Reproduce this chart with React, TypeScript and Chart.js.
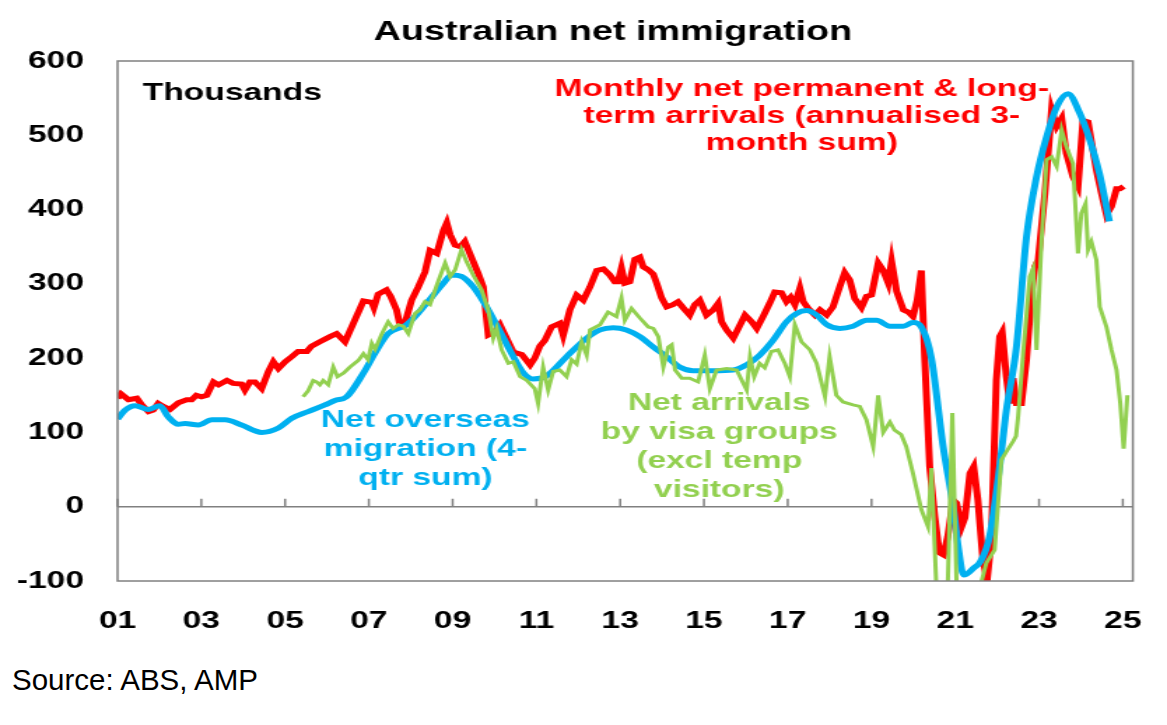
import { useEffect, useRef } from "react"
import { Chart, registerables } from "chart.js"

// Register Chart.js components
Chart.register(...registerables)

// the source picture is squeezed sideways: draw narrow, stretch with CSS
const CANVAS_W = 834
const CANVAS_H = 645
const STRETCH = 1167 / CANVAS_W
const FONT = '"Liberation Sans", Arial, Helvetica, sans-serif'

const tickYears = [2001, 2003, 2005, 2007, 2009, 2011, 2013, 2015, 2017, 2019, 2021, 2023, 2025]
const tickLabels = ["01", "03", "05", "07", "09", "11", "13", "15", "17", "19", "21", "23", "25"]

// Monthly net permanent & long-term arrivals (annualised 3-month sum), '000
const ltDates = [
  2001.0, 2001.08, 2001.26, 2001.46, 2001.58, 2001.74, 2001.85, 2001.97, 2002.09, 2002.25,
  2002.45, 2002.65, 2002.77, 2002.88, 2003.0, 2003.13, 2003.29, 2003.41, 2003.61, 2003.76,
  2003.96, 2004.04, 2004.16, 2004.28, 2004.44, 2004.6, 2004.72, 2004.84, 2005.0, 2005.16,
  2005.31, 2005.52, 2005.63, 2005.83, 2006.07, 2006.23, 2006.43, 2006.63, 2006.87, 2007.07,
  2007.12, 2007.22, 2007.42, 2007.52, 2007.66, 2007.74, 2007.86, 2008.02, 2008.18, 2008.34,
  2008.46, 2008.62, 2008.78, 2008.86, 2008.94, 2009.06, 2009.18, 2009.29, 2009.41, 2009.61,
  2009.73, 2009.85, 2010.0, 2010.13, 2010.25, 2010.45, 2010.65, 2010.85, 2010.96, 2011.08,
  2011.2, 2011.36, 2011.56, 2011.64, 2011.8, 2011.96, 2012.12, 2012.28, 2012.44, 2012.6,
  2012.75, 2012.87, 2012.95, 2013.03, 2013.11, 2013.23, 2013.35, 2013.47, 2013.55, 2013.67,
  2013.79, 2013.87, 2013.99, 2014.11, 2014.26, 2014.38, 2014.5, 2014.66, 2014.78, 2014.9,
  2014.98, 2015.06, 2015.22, 2015.34, 2015.42, 2015.54, 2015.7, 2015.82, 2015.98, 2016.14,
  2016.26, 2016.41, 2016.57, 2016.69, 2016.85, 2016.97, 2017.07, 2017.17, 2017.29, 2017.37,
  2017.49, 2017.65, 2017.77, 2017.93, 2018.08, 2018.24, 2018.36, 2018.48, 2018.6, 2018.76,
  2018.88, 2019.0, 2019.16, 2019.28, 2019.4, 2019.48, 2019.6, 2019.76, 2019.88, 2019.99,
  2020.09, 2020.19, 2020.27, 2020.39, 2020.51, 2020.62, 2020.72, 2020.82, 2020.95, 2021.03,
  2021.15, 2021.23, 2021.35, 2021.44, 2021.54, 2021.66, 2021.76, 2021.86, 2021.98, 2022.06,
  2022.12, 2022.22, 2022.3, 2022.38, 2022.46, 2022.58, 2022.7, 2022.82, 2022.9, 2022.98,
  2023.14, 2023.3, 2023.42, 2023.54, 2023.65, 2023.81, 2023.93, 2024.05, 2024.17, 2024.37,
  2024.49, 2024.61, 2024.73, 2024.85, 2024.93, 2025.02,
]
const ltValues = [
  146, 152, 144, 146, 137, 128, 130, 139, 135, 131,
  140, 144, 144, 150, 148, 150, 168, 164, 170, 166,
  165, 157, 168, 168, 159, 182, 195, 186, 195, 202,
  209, 209, 216, 222, 229, 233, 222, 247, 277, 275,
  268, 286, 292, 283, 265, 245, 247, 278, 296, 316,
  345, 341, 372, 382, 366, 352, 350, 357, 341, 314,
  296, 231, 235, 245, 231, 208, 205, 191, 200, 216,
  224, 242, 247, 231, 265, 285, 278, 296, 318, 320,
  312, 303, 303, 321, 301, 303, 333, 336, 323, 319,
  313, 301, 281, 269, 272, 276, 268, 258, 272, 278,
  268, 258, 265, 274, 249, 238, 227, 240, 258, 249,
  240, 256, 274, 289, 288, 276, 282, 272, 294, 276,
  267, 258, 265, 258, 269, 296, 315, 305, 280, 268,
  283, 285, 328, 318, 301, 330, 290, 265, 262, 256,
  278, 318, 200, 54, -13, -62, -65, -40, 9, 5,
  -27, -15, 45, 54, 9, -72, -99, -45, 170, 229,
  235, 175, 139, 173, 139, 139, 198, 287, 323, 332,
  422, 534, 512, 523, 476, 444, 431, 520, 518, 453,
  422, 393, 404, 428, 428, 431,
]

// Net overseas migration (4-qtr sum), '000
const nomDates = [
  2001.0, 2001.18, 2001.42, 2001.74, 2002.01, 2002.21, 2002.45, 2002.61, 2002.93, 2003.25,
  2003.57, 2003.96, 2004.44, 2004.84, 2005.16, 2005.55, 2005.95, 2006.19, 2006.47, 2006.87,
  2007.19, 2007.46, 2007.9, 2008.38, 2008.78, 2008.98, 2009.21, 2009.49, 2009.81, 2010.13,
  2010.45, 2010.69, 2010.92, 2011.24, 2011.72, 2012.2, 2012.52, 2012.83, 2013.15, 2013.47,
  2013.79, 2014.11, 2014.42, 2014.74, 2015.22, 2015.7, 2016.02, 2016.33, 2016.65, 2016.97,
  2017.21, 2017.45, 2017.69, 2017.93, 2018.24, 2018.56, 2018.88, 2019.12, 2019.44, 2019.76,
  2019.99, 2020.19, 2020.43, 2020.71, 2020.95, 2021.07, 2021.2, 2021.45, 2021.6, 2021.82,
  2022.06, 2022.22, 2022.46, 2022.7, 2022.94, 2023.18, 2023.42, 2023.69, 2023.97, 2024.21,
  2024.44, 2024.68,
]
const nomValues = [
  118, 130, 136, 131, 136, 121, 111, 112, 110, 117,
  117, 110, 100, 106, 119, 128, 137, 143, 148, 180,
  211, 233, 245, 274, 301, 312, 310, 296, 269, 236,
  202, 180, 172, 176, 202, 227, 238, 241, 238, 229,
  215, 202, 188, 183, 183, 184, 191, 204, 224, 249,
  260, 264, 258, 245, 240, 243, 251, 251, 243, 243,
  248, 242, 200, 81, 0, -54, -92, -82, -74, -40,
  54, 130, 215, 363, 444, 498, 538, 556, 530, 494,
  449, 384,
]

// Net arrivals by visa groups (excl temp visitors), '000
const visaDates = [
  2005.43, 2005.55, 2005.67, 2005.75, 2005.83, 2005.91, 2006.03, 2006.15, 2006.25, 2006.4,
  2006.55, 2006.75, 2006.87, 2006.98, 2007.07, 2007.15, 2007.31, 2007.46, 2007.58, 2007.7,
  2007.82, 2007.94, 2008.1, 2008.22, 2008.34, 2008.46, 2008.62, 2008.82, 2008.94, 2009.06,
  2009.21, 2009.33, 2009.49, 2009.69, 2009.85, 2009.97, 2010.05, 2010.17, 2010.33, 2010.45,
  2010.61, 2010.77, 2010.96, 2011.04, 2011.16, 2011.28, 2011.4, 2011.56, 2011.72, 2011.84,
  2011.96, 2012.08, 2012.2, 2012.28, 2012.52, 2012.71, 2012.91, 2013.03, 2013.11, 2013.27,
  2013.47, 2013.67, 2013.79, 2013.91, 2014.03, 2014.15, 2014.23, 2014.31, 2014.47, 2014.66,
  2014.86, 2015.02, 2015.14, 2015.3, 2015.54, 2015.78, 2016.02, 2016.1, 2016.2, 2016.33,
  2016.45, 2016.61, 2016.77, 2016.93, 2017.05, 2017.17, 2017.33, 2017.53, 2017.69, 2017.89,
  2018.0, 2018.16, 2018.32, 2018.56, 2018.72, 2018.88, 2019.04, 2019.16, 2019.28, 2019.44,
  2019.55, 2019.71, 2019.83, 2019.99, 2020.19, 2020.35, 2020.43, 2020.58, 2020.8, 2020.93,
  2021.05, 2021.5, 2021.63, 2021.74, 2021.94, 2022.1, 2022.22, 2022.38, 2022.45, 2022.5,
  2022.62, 2022.78, 2022.86, 2022.94, 2023.06, 2023.18, 2023.3, 2023.42, 2023.54, 2023.65,
  2023.81, 2023.93, 2024.01, 2024.11, 2024.17, 2024.25, 2024.37, 2024.45, 2024.61, 2024.73,
  2024.85, 2024.94, 2025.02, 2025.11,
]
const visaValues = [
  148, 156, 170, 168, 164, 170, 164, 188, 175, 180,
  188, 197, 206, 198, 220, 212, 233, 249, 240, 245,
  243, 233, 260, 265, 276, 272, 298, 328, 310, 319,
  346, 330, 312, 292, 265, 227, 240, 211, 193, 195,
  175, 170, 159, 139, 188, 157, 182, 184, 175, 198,
  192, 222, 204, 238, 245, 262, 256, 281, 251, 267,
  254, 242, 240, 229, 188, 215, 218, 184, 173, 173,
  168, 204, 159, 184, 186, 184, 157, 202, 175, 193,
  187, 209, 211, 193, 175, 245, 222, 211, 193, 148,
  202, 150, 141, 137, 135, 117, 81, 150, 100, 114,
  103, 97, 81, 45, -4, -27, 52, -150, -150, 126,
  -150, -150, -100, -76, -58, 63, 74, 88, 95, 121,
  206, 310, 321, 211, 359, 467, 471, 458, 507, 485,
  462, 341, 395, 408, 346, 357, 332, 269, 242, 211,
  184, 139, 78, 150,
]

const chartTitle = "Australian net immigration"
const unitLabel = "Thousands"
const ltLabel = ["Monthly net permanent & long-", "term arrivals (annualised 3-", "month sum)"]
const nomLabel = ["Net overseas", "migration (4-", "qtr sum)"]
const visaLabel = ["Net arrivals", "by visa groups", "(excl temp", "visitors)"]

const RED = "#FF0000"
const BLUE = "#00B0F0"
const GREEN = "#92D050"
const FRAME = "#808080"

const toPoints = (xs: number[], ys: number[]) => xs.map((x, i) => ({ x, y: ys[i] }))

// frame around the plot, and the small year ticks sitting on the zero line
const framePlugin = {
  id: "frame",
  beforeDatasetsDraw(chart: Chart) {
    const { ctx, scales } = chart
    const y0 = scales.y.getPixelForValue(0)
    ctx.save()
    ctx.strokeStyle = FRAME
    ctx.lineWidth = 1.5
    ctx.beginPath()
    tickYears.forEach((yr) => {
      const x = scales.x.getPixelForValue(yr)
      ctx.moveTo(x, y0)
      ctx.lineTo(x, y0 - 8)
    })
    ctx.stroke()
    ctx.restore()
  },
  afterDraw(chart: Chart) {
    const { ctx, chartArea } = chart
    ctx.save()
    ctx.strokeStyle = FRAME
    ctx.lineWidth = 1.5
    ctx.strokeRect(chartArea.left, chartArea.top, chartArea.right - chartArea.left, chartArea.bottom - chartArea.top)
    ctx.restore()
  },
}

const drawLines = (ctx: CanvasRenderingContext2D, lines: string[], x: number, y: number, step: number) => {
  lines.forEach((line, i) => ctx.fillText(line, x, y + i * step))
}

const labelsPlugin = {
  id: "textLabels",
  afterDraw(chart: Chart) {
    const ctx = chart.ctx
    ctx.save()
    ctx.textBaseline = "alphabetic"

    ctx.textAlign = "center"
    ctx.fillStyle = "#000"
    ctx.font = `bold 27px ${FONT}`
    ctx.fillText(chartTitle, 438, 40)

    ctx.textAlign = "left"
    ctx.font = `bold 24px ${FONT}`
    ctx.fillText(unitLabel, 102, 100)

    ctx.textAlign = "center"
    ctx.fillStyle = RED
    drawLines(ctx, ltLabel, 573, 96, 27)
    ctx.fillStyle = BLUE
    drawLines(ctx, nomLabel, 304, 427, 29)
    ctx.fillStyle = GREEN
    drawLines(ctx, visaLabel, 514, 410, 29)
    ctx.restore()
  },
}

function ImmigrationChart() {
  const chartRef = useRef<HTMLCanvasElement>(null)
  const chartInstance = useRef<Chart | null>(null)

  useEffect(() => {
    if (!chartRef.current) return
    if (chartInstance.current) chartInstance.current.destroy()

    const ctx = chartRef.current.getContext("2d")
    if (!ctx) return

    chartInstance.current = new Chart(ctx, {
      type: "line",
      data: {
        datasets: [
          {
            label: "Net arrivals by visa groups",
            data: toPoints(visaDates, visaValues),
            borderColor: GREEN,
            borderWidth: 3,
            pointRadius: 0,
            tension: 0,
            clip: 0,
          },
          {
            label: "Net overseas migration",
            data: toPoints(nomDates, nomValues),
            borderColor: BLUE,
            borderWidth: 5,
            pointRadius: 0,
            cubicInterpolationMode: "monotone",
            clip: 0,
          },
          {
            label: "Monthly net permanent & long-term arrivals",
            data: toPoints(ltDates, ltValues),
            borderColor: RED,
            borderWidth: 5,
            pointRadius: 0,
            tension: 0,
            clip: 0,
          },
        ],
      },
      options: {
        animation: false,
        responsive: true,
        maintainAspectRatio: false,
        layout: { padding: { left: 0, right: 24, top: 61, bottom: 0 } },
        plugins: {
          legend: { display: false },
          tooltip: { enabled: false },
          title: { display: false },
        },
        scales: {
          x: {
            type: "linear",
            min: 2001,
            max: 2025.24,
            afterBuildTicks: (scale) => {
              scale.ticks = tickYears.map((value) => ({ value }))
            },
            afterFit: (scale) => {
              scale.height = CANVAS_H - 581
            },
            grid: { display: false },
            border: { display: false },
            ticks: {
              autoSkip: false,
              maxRotation: 0,
              padding: 18,
              color: "#000",
              font: { family: FONT, size: 24, weight: "bold" },
              callback: (_value, index) => tickLabels[index],
            },
          },
          y: {
            min: -100,
            max: 600,
            afterFit: (scale) => {
              scale.width = 84
            },
            grid: {
              drawTicks: false,
              lineWidth: 1.5,
              color: (c) => (c.tick && c.tick.value === 0 ? FRAME : "rgba(0,0,0,0)"),
            },
            border: { display: false },
            ticks: {
              stepSize: 100,
              padding: 24,
              color: "#000",
              font: { family: FONT, size: 24, weight: "bold" },
            },
          },
        },
      },
      plugins: [framePlugin, labelsPlugin],
    })

    return () => {
      if (chartInstance.current) {
        chartInstance.current.destroy()
        chartInstance.current = null
      }
    }
  }, [])

  return (
    <div
      style={{
        position: "absolute",
        left: 0,
        top: 0,
        width: CANVAS_W,
        height: CANVAS_H,
        transform: `scaleX(${STRETCH})`,
        transformOrigin: "0 0",
      }}
    >
      <canvas ref={chartRef} />
    </div>
  )
}

export default function App() {
  return (
    <div style={{ position: "absolute", left: 0, top: 0, width: 1167, height: 725, background: "#fff", overflow: "hidden" }}>
      <ImmigrationChart />
      <div
        style={{
          position: "absolute",
          left: 12,
          top: 665,
          fontFamily: FONT,
          fontSize: 29.5,
          lineHeight: "30px",
          color: "#000",
        }}
      >
        Source: ABS, AMP
      </div>
    </div>
  )
}
